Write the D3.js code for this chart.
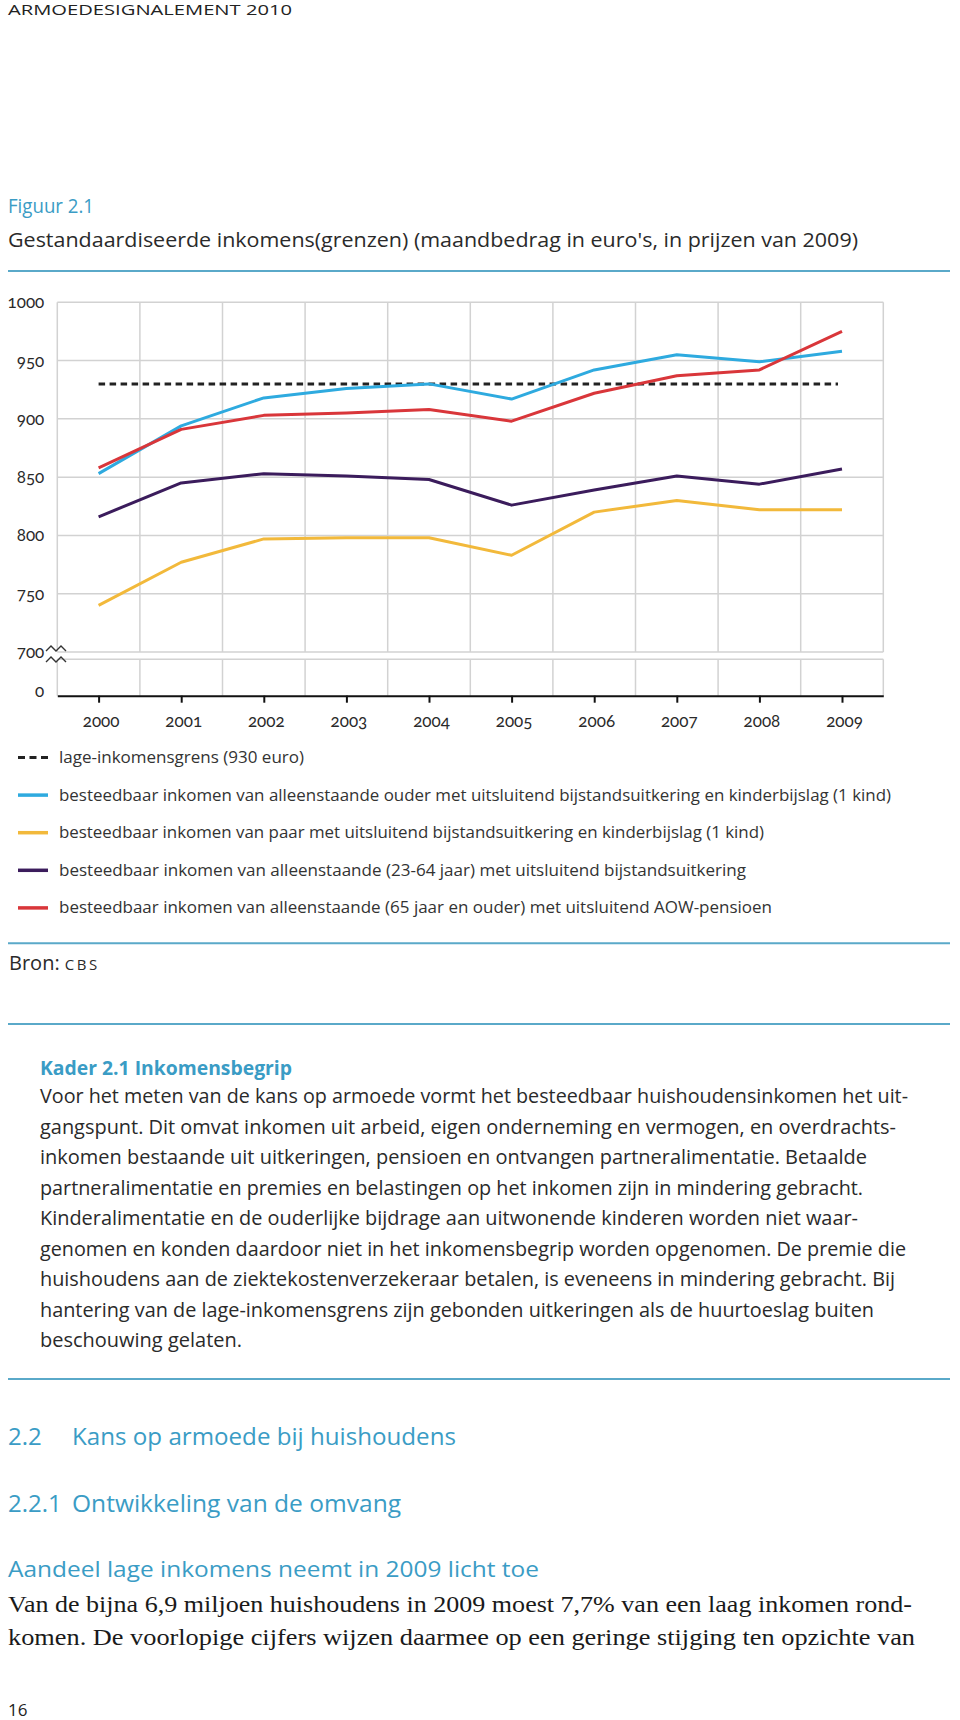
<!DOCTYPE html>
<html><head><meta charset="utf-8">
<script src="https://cdn.jsdelivr.net/npm/d3@7"></script>
<style>
html,body{margin:0;padding:0;background:#fff;}
svg{display:block;}
.num{font-family:Lato,"Open Sans",sans-serif;font-variant-numeric:oldstyle-nums;font-feature-settings:"onum" 1;}
</style>
</head><body>
<div id="chart"></div>
<script>
// ---------- DATA ----------
const years = [2000, 2001, 2002, 2003, 2004, 2005, 2006, 2007, 2008, 2009];
const yTicks = [700, 750, 800, 850, 900, 950, 1000];
const lageGrens = 930;
const alleenstaandeOuder = [853, 894, 918, 926, 930, 917, 942, 955, 949, 958];
const paar = [740, 777, 797, 798, 798, 783, 820, 830, 822, 822];
const alleenstaande2364 = [816, 845, 853, 851, 848, 826, 839, 851, 844, 857];
const alleenstaande65 = [858, 891, 903, 905, 908, 898, 922, 937, 942, 975];
const legendLabels = [
  "lage-inkomensgrens (930 euro)",
  "besteedbaar inkomen van alleenstaande ouder met uitsluitend bijstandsuitkering en kinderbijslag (1 kind)",
  "besteedbaar inkomen van paar met uitsluitend bijstandsuitkering en kinderbijslag (1 kind)",
  "besteedbaar inkomen van alleenstaande (23-64 jaar) met uitsluitend bijstandsuitkering",
  "besteedbaar inkomen van alleenstaande (65 jaar en ouder) met uitsluitend AOW-pensioen"
];
const kaderLines = [
  "Voor het meten van de kans op armoede vormt het besteedbaar huishoudensinkomen het uit-",
  "gangspunt. Dit omvat inkomen uit arbeid, eigen onderneming en vermogen, en overdrachts-",
  "inkomen bestaande uit uitkeringen, pensioen en ontvangen partneralimentatie. Betaalde",
  "partneralimentatie en premies en belastingen op het inkomen zijn in mindering gebracht.",
  "Kinderalimentatie en de ouderlijke bijdrage aan uitwonende kinderen worden niet waar-",
  "genomen en konden daardoor niet in het inkomensbegrip worden opgenomen. De premie die",
  "huishoudens aan de ziektekostenverzekeraar betalen, is eveneens in mindering gebracht. Bij",
  "hantering van de lage-inkomensgrens zijn gebonden uitkeringen als de huurtoeslag buiten",
  "beschouwing gelaten."
];
const bodyLines = [
  "Van de bijna 6,9 miljoen huishoudens in 2009 moest 7,7% van een laag inkomen rond-",
  "komen. De voorlopige cijfers wijzen daarmee op een geringe stijging ten opzichte van"
];

// ---------- LAYOUT / STYLE ----------
const W = 960, H = 1720;
const TEAL = "#3a9cc5", RULE = "#5aa9c9", INK = "#2a2a2a";
const SANS = "'Open Sans', Lato, sans-serif";
const SERIF = "'Liberation Serif', 'DejaVu Serif', serif";
const seriesDefs = [
  {values: paar, color: "#f2b93b"},
  {values: alleenstaande2364, color: "#3b1c5c"},
  {values: alleenstaandeOuder, color: "#2eaadf"},
  {values: alleenstaande65, color: "#d9363a"}
];
const legendColors = [null, "#2eaadf", "#f2b93b", "#3b1c5c", "#d9363a"];
const legendWidths = [245, 832, 705, 687, 713];
const kaderWidths = [868, 856, 827, 823, 818, 866, 855, 834, 202];

const svg = d3.select("#chart").append("svg").attr("width", W).attr("height", H);
svg.append("rect").attr("width", W).attr("height", H).attr("fill", "#fff");

function txt(x, y, s, o) {
  const t = svg.append("text").attr("x", x).attr("y", y).text(s)
    .attr("font-family", o.family || SANS).attr("font-size", o.size)
    .attr("fill", o.fill || INK);
  if (o.weight) t.attr("font-weight", o.weight);
  if (o.width) t.attr("textLength", o.width).attr("lengthAdjust", "spacingAndGlyphs");
  if (o.ls) t.attr("letter-spacing", o.ls);
  return t;
}
function rule(y) {
  svg.append("line").attr("x1", 8).attr("x2", 950).attr("y1", y).attr("y2", y)
    .attr("stroke", RULE).attr("stroke-width", 2);
}

// Header
txt(8, 14.5, "ARMOEDESIGNALEMENT 2010", {size: 14, width: 284, fill: "#222"});
txt(8, 213, "Figuur 2.1", {size: 19.5, fill: TEAL, width: 86});
txt(8, 247, "Gestandaardiseerde inkomens(grenzen) (maandbedrag in euro's, in prijzen van 2009)", {size: 19.5, width: 850});
rule(271);

// ---------- CHART ----------
const P = {left: 57.3, right: 883.3, top: 302.3, bottom: 652, lowTop: 659.3, axisY: 695.7};
const x = d3.scalePoint().domain(years).range([P.left, P.right]).padding(0.5);
const y = d3.scaleLinear().domain([700, 1000]).range([P.bottom, P.top]);
const step = x.step();
const g = svg.append("g");
const GRID = "#d2d2d2";

// grid - upper
const vEdges = d3.range(years.length + 1).map(i => P.left + i * step);
g.selectAll(".vg").data(vEdges).join("line")
  .attr("x1", d => d).attr("x2", d => d).attr("y1", P.top).attr("y2", P.bottom)
  .attr("stroke", GRID).attr("stroke-width", 1.5);
g.selectAll(".hg").data(yTicks).join("line")
  .attr("x1", P.left).attr("x2", P.right).attr("y1", d => y(d)).attr("y2", d => y(d))
  .attr("stroke", GRID).attr("stroke-width", 1.5);
// grid - lower panel
g.selectAll(".vg2").data(vEdges).join("line")
  .attr("x1", d => d).attr("x2", d => d).attr("y1", P.lowTop).attr("y2", P.axisY)
  .attr("stroke", GRID).attr("stroke-width", 1.5);
g.append("line").attr("x1", P.left).attr("x2", P.right).attr("y1", P.lowTop).attr("y2", P.lowTop)
  .attr("stroke", GRID).attr("stroke-width", 1.5);

// y axis labels
const yAxis = d3.axisLeft(y).tickValues(yTicks).tickFormat(d3.format("d")).tickSize(0).tickPadding(13);
const ya = g.append("g").attr("transform", `translate(${P.left},0)`).call(yAxis);
ya.select(".domain").remove();
ya.selectAll("text").attr("class", "num").attr("font-size", 17).attr("fill", INK)
  .attr("font-family", null);
g.append("text").attr("class", "num").attr("x", P.left - 13).attr("y", P.axisY - 4)
  .attr("text-anchor", "end").attr("dy", "0.32em").attr("font-size", 17).attr("fill", INK).text(0);

// break symbol
const zig = (y0) => `M46,${y0} L51,${y0 - 5} L56,${y0} L61,${y0 - 5} L66,${y0}`;
g.append("path").attr("d", zig(651)).attr("fill", "none").attr("stroke", "#333").attr("stroke-width", 1.4);
g.append("path").attr("d", zig(662)).attr("fill", "none").attr("stroke", "#333").attr("stroke-width", 1.4);

// x axis
const xAxis = d3.axisBottom(x).tickSize(7).tickSizeOuter(0).tickPadding(0).tickFormat(d3.format("d"));
const xa = g.append("g").attr("transform", `translate(0,${P.axisY})`).call(xAxis);
xa.select(".domain").attr("stroke", "#111").attr("stroke-width", 2);
xa.selectAll(".tick line").attr("stroke", "#111").attr("stroke-width", 2);
xa.selectAll("text").attr("class", "num").attr("font-family", null).attr("font-size", 17)
  .attr("fill", INK).attr("y", 31).attr("dy", 0).attr("dx", 2);

// lines
const line = d3.line().x((d, i) => x(years[i])).y(d => y(d));
g.append("line").attr("x1", x(years[0])).attr("x2", x(years[years.length - 1]) - 4)
  .attr("y1", y(lageGrens)).attr("y2", y(lageGrens))
  .attr("stroke", "#222").attr("stroke-width", 3).attr("stroke-dasharray", "6.5,4.5");
seriesDefs.forEach(s => {
  g.append("path").attr("d", line(s.values)).attr("fill", "none")
    .attr("stroke", s.color).attr("stroke-width", 3).attr("stroke-linejoin", "round");
});

// ---------- LEGEND ----------
const lg = svg.append("g");
legendLabels.forEach((lab, i) => {
  const ly = 757.5 + i * 37.6;
  if (i === 0) {
    lg.append("line").attr("x1", 18).attr("x2", 48).attr("y1", ly).attr("y2", ly)
      .attr("stroke", "#222").attr("stroke-width", 3).attr("stroke-dasharray", "7,4.5");
  } else {
    lg.append("line").attr("x1", 18).attr("x2", 48).attr("y1", ly).attr("y2", ly)
      .attr("stroke", legendColors[i]).attr("stroke-width", 3.5);
  }
  lg.append("text").attr("x", 59).attr("y", ly).attr("dy", "0.33em").text(lab)
    .attr("font-family", SANS).attr("font-size", 16.5).attr("fill", "#333")
    .attr("textLength", legendWidths[i]).attr("lengthAdjust", "spacingAndGlyphs");
});
rule(943.3);
const bron = txt(9, 970, "Bron: ", {size: 20});
bron.append("tspan").text("CBS").attr("font-size", 15).attr("letter-spacing", 2.5);

// ---------- KADER ----------
rule(1024);
txt(40, 1074.5, "Kader 2.1 Inkomensbegrip", {size: 20, weight: 700, fill: TEAL, width: 252});
kaderLines.forEach((l, i) => {
  txt(40, 1103.3 + i * 30.5, l, {size: 19.5, width: kaderWidths[i]});
});
rule(1379);

// ---------- SECTION ----------
txt(8, 1445, "2.2", {size: 24, fill: TEAL});
txt(72, 1445, "Kans op armoede bij huishoudens", {size: 24, fill: TEAL, width: 384});
txt(8, 1512, "2.2.1", {size: 24, fill: TEAL});
txt(72, 1512, "Ontwikkeling van de omvang", {size: 24, fill: TEAL, width: 329});
txt(8, 1577, "Aandeel lage inkomens neemt in 2009 licht toe", {size: 22, fill: TEAL, width: 531});
txt(8, 1611.7, bodyLines[0], {size: 23, family: SERIF, fill: "#1a1a1a", width: 904});
txt(8, 1645, bodyLines[1], {size: 23, family: SERIF, fill: "#1a1a1a", width: 907});
txt(8, 1716, "16", {size: 17, fill: "#222"});
</script>
</body></html>
